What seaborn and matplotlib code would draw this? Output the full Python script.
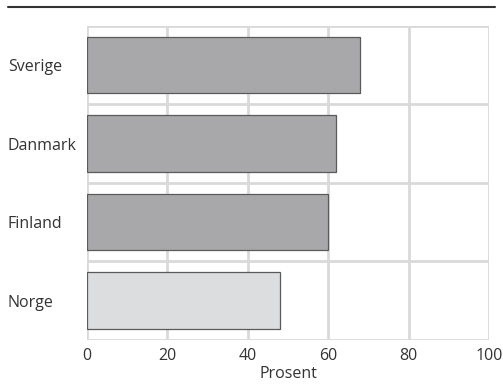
import numpy as np
import pandas as pd
import matplotlib.pyplot as plt
from matplotlib.lines import Line2D
import seaborn as sns

# data
countries = ["Sverige", "Danmark", "Finland", "Norge"]
values = [68, 62, 60, 48]
bar_colors = ["#a7a8ab", "#a7a8ab", "#a7a8ab", "#dcdddf"]
x_ticks = [0, 20, 40, 60, 80, 100]

sns.set_style("white")
plt.rcParams['font.family'] = ['Open Sans', 'DejaVu Sans']

df = pd.DataFrame({"land": countries, "prosent": values})

fig = plt.figure(figsize=(5.03, 3.92), dpi=100)
ax = fig.add_axes([0.173, 0.133, 0.799, 0.801])

sns.barplot(data=df, y="land", x="prosent", hue="land", palette=bar_colors,
            order=countries, legend=False, width=0.72, orient="h",
            edgecolor="#5a5a5a", linewidth=0.9, ax=ax, zorder=3)

grid_col = "#d9d9d9"
ax.set_xlim(0, 100)
ax.set_ylim(len(countries) - 0.5, -0.5)
ax.set_xticks(x_ticks)
for xv in x_ticks:
    ax.axvline(xv, color=grid_col, lw=2, zorder=1)
for yv in np.arange(-0.5, len(countries), 1.0):
    ax.axhline(yv, color=grid_col, lw=2, zorder=1)

for sp in ax.spines.values():
    sp.set_visible(False)

ax.tick_params(axis="x", length=0, labelsize=11.5, colors="#333333", pad=6)
ax.tick_params(axis="y", length=0, labelsize=11.5, colors="#333333", pad=57)
for lab in ax.get_yticklabels():
    lab.set_horizontalalignment("left")
ax.set_ylabel("")
ax.set_xlabel("Prosent", fontsize=11.5, color="#333333", labelpad=1)

fig.add_artist(Line2D([0.016, 0.984], [0.982, 0.982], color="#333333", lw=1.5,
                      transform=fig.transFigure))

fig.savefig("out.png", dpi=100)
